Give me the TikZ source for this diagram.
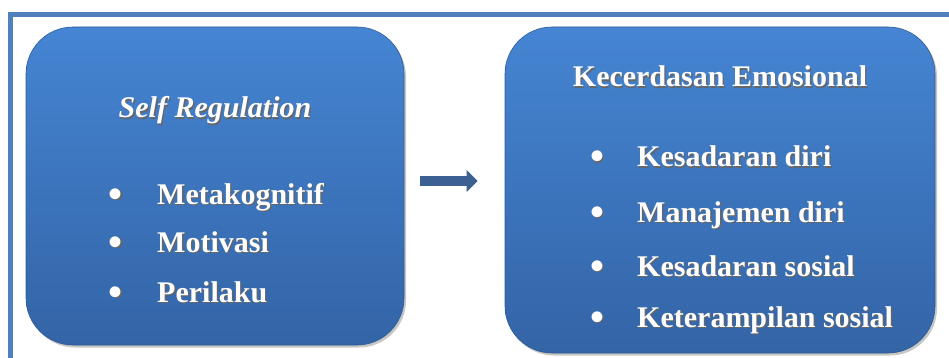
\documentclass[tikz,border=0pt]{standalone}
\usepackage{fontspec}
\setmainfont{Liberation Serif}
\usetikzlibrary{arrows.meta,shadows}
\definecolor{framecol}{RGB}{79,129,189}
\definecolor{boxtop}{RGB}{69,133,211}
\definecolor{boxbot}{RGB}{51,100,166}
\definecolor{arrowcol}{RGB}{60,96,145}
\newcommand{\shd}[1]{\makebox[0pt][l]{\kern1.3pt\raisebox{-1.3pt}{\color{black!60}#1}}#1}
\tikzset{
  bigbox/.style={rectangle, rounded corners=47pt, top color=boxtop, bottom color=boxbot,
    draw=boxbot!90!black, line width=0.6pt,
    drop shadow={shadow xshift=2pt, shadow yshift=-2.5pt, opacity=0.45}},
  txt/.style={text=white, inner sep=0pt, font=\fontsize{30}{36}\selectfont\bfseries},
  dot/.style={txt, anchor=base, font=\fontsize{40}{40}\selectfont\bfseries},
  blockarrow/.style={draw=arrowcol, line width=10pt, -{Triangle[length=11pt,width=21pt]}}
}
\begin{document}
\begin{tikzpicture}[x=1pt,y=-1pt]
  \useasboundingbox (0,0) rectangle (949,358);
  \clip (0,0) rectangle (949,358);
  % outer frame
  \draw[framecol, line width=5pt] (10.8,14.2) rectangle (980,390);
  % the two boxes
  \node[bigbox, minimum width=378pt, minimum height=318pt] (selfreg) at (215,186) {};
  \node[bigbox, minimum width=430pt, minimum height=326pt] (kecerdasan) at (720,190) {};
  \node[txt, anchor=base] (srtitle) at (215,118) {\itshape\shd{Self Regulation}};
  \node[txt, anchor=base] (ketitle) at (720,87) {\shd{Kecerdasan Emosional}};
  \foreach \name/\y/\item in {meta/204/Metakognitif, moti/252/Motivasi, peri/302/Perilaku}{
    \node[dot] (b\name) at (116,\y+3) {\shd{\textbullet}};
    \node[txt, anchor=base west] (\name) at (157,\y) {\shd{\item}};
  }
  \foreach \name/\y/\item in {kd/167/Kesadaran diri, md/222/Manajemen diri, ks/276/Kesadaran sosial, kt/327/Keterampilan sosial}{
    \node[dot] (b\name) at (597,\y+3) {\shd{\textbullet}};
    \node[txt, anchor=base west] (\name) at (637,\y) {\shd{\item}};
  }
  % arrow
  \draw[blockarrow] ([xshift=16pt,yshift=5pt]selfreg.east) -- ([xshift=-27pt,yshift=9pt]kecerdasan.west);
\end{tikzpicture}
\end{document}
